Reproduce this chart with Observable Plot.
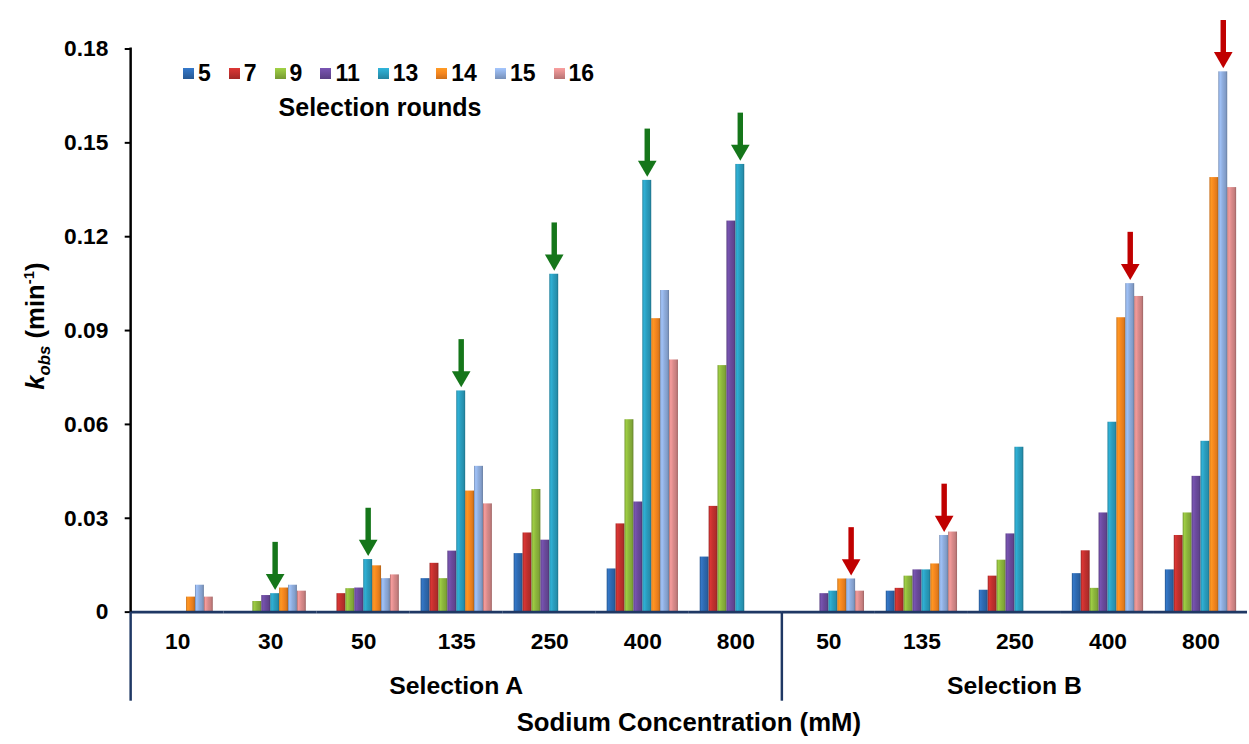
<!DOCTYPE html>
<html><head><meta charset="utf-8">
<script src="https://cdn.jsdelivr.net/npm/d3@7"></script>
<script src="https://cdn.jsdelivr.net/npm/@observablehq/plot@0.6"></script>
<style>
body{margin:0;background:#fff;overflow:hidden;}
#wrap{position:relative;width:1249px;height:744px;overflow:hidden;font-family:"Liberation Sans",Arial,sans-serif;font-weight:bold;color:#000;}
#chart svg{display:block}
#legend{position:absolute;left:183px;top:60px;display:flex;align-items:center;font-size:23px;line-height:27px;}
.item{display:flex;align-items:center;margin-right:18px}
.sw{width:11px;height:11px;margin-right:4px}
#ltitle{position:absolute;left:260px;top:93px;font-size:25px;width:240px;text-align:center}
</style></head>
<body><div id="wrap"><div id="chart"></div><div id="legend"></div><div id="ltitle">Selection rounds</div></div>
<script>
// Categories
const groups = ["A-10","A-30","A-50","A-135","A-250","A-400","A-800","B-50","B-135","B-250","B-400","B-800"];
const groupLabels = ["10","30","50","135","250","400","800","50","135","250","400","800"];
const selectionNames = ["Selection A","Selection B"];
const selectionFirst = ["A-10","B-50"];
const selectionLast = ["A-800","B-800"];
const rounds = ["5","7","9","11","13","14","15","16"];
const roundColors = ["#2E69B0","#C0302E","#8CB63C","#6A4A9C","#2A9DBE","#F5861F","#8EACDC","#D98A8A"];
const yTicks = [0,0.03,0.06,0.09,0.12,0.15,0.18];

// kobs values (min^-1), one array per selection round, aligned with groups
const kRound5  = [null,null,null,0.0107,0.0187,0.0138,0.0176,null,0.0067,0.0070,0.0123,0.0135];
const kRound7  = [null,null,0.0059,0.0156,0.0253,0.0282,0.0338,null,0.0076,0.0115,0.0196,0.0245];
const kRound9  = [null,0.0034,0.0075,0.0107,0.0392,0.0615,0.0788,null,0.0115,0.0166,0.0076,0.0317];
const kRound11 = [null,0.0053,0.0077,0.0195,0.0230,0.0352,0.1250,0.0059,0.0135,0.0250,0.0317,0.0434];
const kRound13 = [null,0.0059,0.0168,0.0707,0.1080,0.1380,0.1431,0.0067,0.0135,0.0527,0.0607,0.0546];
const kRound14 = [0.0048,0.0077,0.0148,0.0387,null,0.0938,null,0.0106,0.0154,null,0.0941,0.1389];
const kRound15 = [0.0086,0.0086,0.0107,0.0466,null,0.1028,null,0.0106,0.0245,null,0.1050,0.1727];
const kRound16 = [0.0048,0.0067,0.0119,0.0346,null,0.0806,null,0.0067,0.0256,null,0.1009,0.1357];
const allRounds = [kRound5,kRound7,kRound9,kRound11,kRound13,kRound14,kRound15,kRound16];

// Arrow annotations
const greenArrowGroups = ["A-30","A-50","A-135","A-250","A-400","A-800"];
const greenArrowRound = "13";
const greenArrowColor = "#15761A";
const redArrowGroups = ["B-50","B-135","B-400","B-800"];
const redArrowRound = "15";
const redArrowColor = "#C00000";

const data = [];
rounds.forEach((r, i) => groups.forEach((g, j) => {
  const v = allRounds[i][j];
  if (v != null) data.push({group: g, round: r, value: v});
}));
const valueOf = (g, r) => allRounds[rounds.indexOf(r)][groups.indexOf(g)];
const arrows = [
  ...greenArrowGroups.map(g => ({group: g, round: greenArrowRound, value: valueOf(g, greenArrowRound), color: greenArrowColor})),
  ...redArrowGroups.map(g => ({group: g, round: redArrowRound, value: valueOf(g, redArrowRound), color: redArrowColor}))
];

const plot = Plot.plot({
  width: 1262, height: 744,
  marginLeft: 130, marginRight: 0, marginTop: 49, marginBottom: 126,
  style: {fontFamily: "'Liberation Sans', Arial, sans-serif", fontWeight: "bold", fontSize: "23px", color: "#000", background: "#fff", overflow: "visible"},
  fx: {domain: groups, padding: 0, label: null},
  x: {domain: rounds, paddingInner: 0, paddingOuter: 0.715, axis: null},
  y: {domain: [0, 0.18], range: [618, 49], label: null},
  color: {type: "identity"},
  marks: [
    Plot.barY(data, {fx: "group", x: "round", y: "value", fill: d => `url(#grad-${d.round})`}),
    Plot.ruleY([0], {stroke: "#1F3864", strokeWidth: 3}),
    Plot.axisY({ticks: yTicks, tickFormat: d => d === 0 ? "0" : d.toFixed(2), tickSize: 6, tickPadding: 17, strokeWidth: 2, label: null}),
    Plot.axisFx({anchor: "bottom", tickSize: 0, tickPadding: 21, tickFormat: d => groupLabels[groups.indexOf(d)], label: null}),
    Plot.ruleX(arrows, {fx: "group", x: "round", y1: d => d.value + 0.0054, y2: d => d.value + 0.0164, stroke: "color", strokeWidth: 5.5}),
    Plot.dot(arrows, {fx: "group", x: "round", y: "value", symbol: "triangle", rotate: 180, r: 7, fill: "color", stroke: "none", dy: -14.5})
  ]
});
document.getElementById("chart").appendChild(plot);

// gradients for the bevelled bar look
const svg = d3.select(plot);
const defs = svg.insert("defs", ":first-child");
rounds.forEach((r, i) => {
  const c = d3.color(roundColors[i]);
  const g = defs.append("linearGradient").attr("id", "grad-" + r).attr("x1", 0).attr("x2", 1).attr("y1", 0).attr("y2", 0);
  [[0, c.darker(0.6)], [0.18, c.brighter(0.35)], [0.5, c], [0.8, c.darker(0.25)], [1, c.darker(0.9)]]
    .forEach(([o, col]) => g.append("stop").attr("offset", o).attr("stop-color", col.formatHex()));
});

const fx = plot.scale("fx");
const y = plot.scale("y");
const bw = fx.bandwidth;
const y0 = y.apply(0);
const deco = svg.append("g");
// y axis line
deco.append("line").attr("x1", fx.apply(groups[0])).attr("x2", fx.apply(groups[0]))
  .attr("y1", y.apply(0.18) - 1).attr("y2", y0).attr("stroke", "#000").attr("stroke-width", 2.5);
// multi-level category separators
selectionFirst.forEach(g => {
  const x = fx.apply(g);
  deco.append("line").attr("x1", x).attr("x2", x).attr("y1", y0).attr("y2", y0 + 90)
    .attr("stroke", "#1F3864").attr("stroke-width", 2.5);
});
// selection labels
selectionNames.forEach((name, i) => {
  const xc = (fx.apply(selectionFirst[i]) + fx.apply(selectionLast[i]) + bw) / 2;
  deco.append("text").attr("x", xc).attr("y", y0 + 83).attr("text-anchor", "middle")
    .attr("font-size", 25).text(name);
});
// x axis title
const xMid = (fx.apply(groups[0]) + fx.apply(groups[groups.length - 1]) + bw) / 2;
deco.append("text").attr("x", xMid).attr("y", y0 + 121).attr("text-anchor", "middle")
  .attr("font-size", 26).text("Sodium Concentration (mM)");
// y axis title
const yl = deco.append("text").attr("transform", `translate(44,${(y.apply(0.18) + y0) / 2 - 4}) rotate(-90)`)
  .attr("text-anchor", "middle").attr("font-size", 26);
yl.append("tspan").attr("font-style", "italic").text("k");
yl.append("tspan").attr("font-style", "italic").attr("font-size", 17).attr("dy", 6).text("obs");
yl.append("tspan").attr("dy", -6).text(" (min");
yl.append("tspan").attr("font-size", 15).attr("dy", -10).text("-1");
yl.append("tspan").attr("dy", 10).text(")");

// legend
const legend = d3.select("#legend");
rounds.forEach((r, i) => {
  const c = d3.color(roundColors[i]);
  const it = legend.append("div").attr("class", "item");
  it.append("div").attr("class", "sw")
    .style("background", `linear-gradient(180deg, ${c.brighter(0.4).formatHex()} 0%, ${c.formatHex()} 50%, ${c.darker(0.5).formatHex()} 100%)`);
  it.append("span").text(r);
});
</script>
</body></html>
